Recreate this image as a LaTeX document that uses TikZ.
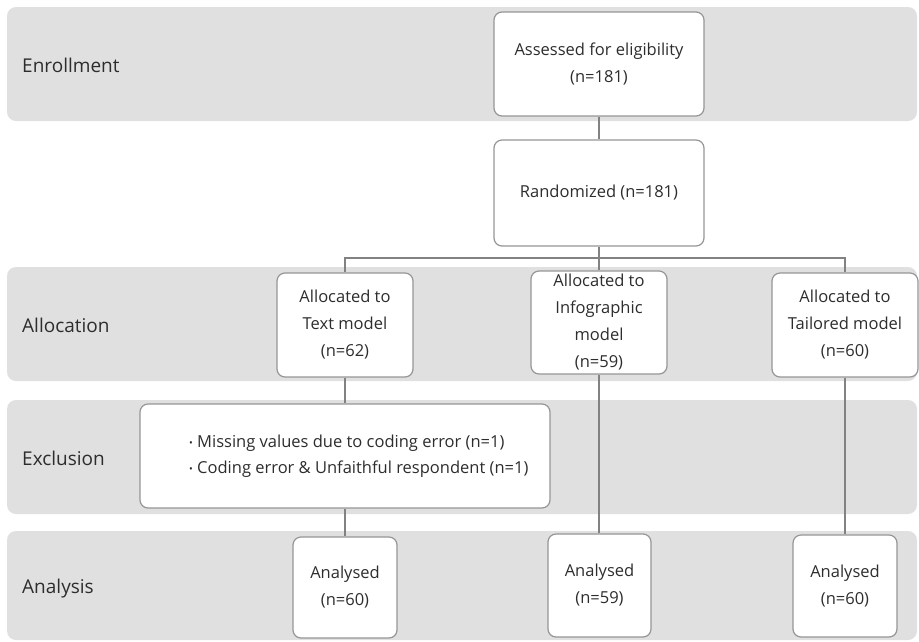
\documentclass[tikz,border=0pt]{standalone}
\usepackage{fontspec}
\setmainfont{Open Sans}
\newcommand{\smallbul}{{\fontsize{10}{10}\selectfont\raisebox{1pt}{•}}}
\begin{document}
\begin{tikzpicture}[x=1pt,y=-1pt,
  band/.style={fill=bandgray, draw=none, rounded corners=9pt},
  box/.style={draw=boxborder, line width=1.2pt, fill=white, rounded corners=8pt, align=center,
     font=\fontsize{16.5}{27}\selectfont, text=txt, inner sep=0pt},
  lbl/.style={anchor=west, font=\fontsize{19}{22}\selectfont, text=txt, inner sep=0pt},
  conn/.style={draw=linegray, line width=1.2pt}]
\definecolor{bandgray}{RGB}{224,224,224}
\definecolor{boxborder}{RGB}{150,150,150}
\definecolor{linegray}{RGB}{130,130,130}
\definecolor{txt}{RGB}{45,45,45}
\clip (0,0) rectangle (919,641);
\useasboundingbox (0,0) rectangle (919,641);
% bands
\path[band] (7,7) rectangle (917,121);
\path[band] (7,267) rectangle (917,381);
\path[band] (7,400) rectangle (917,514);
\path[band] (7,531) rectangle (917,640);
% labels
\node[lbl] (lenr) at (22,65) {Enrollment};
\node[lbl] (lall) at (22,325) {Allocation};
\node[lbl] (lexc) at (22,458) {Exclusion};
\node[lbl] (lana) at (22,589) {Analysis};
% boxes
\node[box, minimum width=210pt, minimum height=104pt] (ass) at (599,64) {Assessed for eligibility\\(n=181)};
\node[box, minimum width=210pt, minimum height=106pt] (rand) at (599,193) {Randomized (n=181)};
\node[box, minimum width=136pt, minimum height=104pt] (textm) at (345,325) {Allocated to\\Text model\\(n=62)};
\node[box, minimum width=136pt, minimum height=103pt] (info) at (599,322.5) {Allocated to\\Infographic\\model\\(n=59)};
\node[box, minimum width=146pt, minimum height=104pt] (tail) at (845,325) {Allocated to\\Tailored model\\(n=60)};
\node[box, minimum width=410pt, minimum height=104pt] (excl) at (345,456) {};
\node[anchor=west, align=left, font=\fontsize{16.5}{26}\selectfont, text=txt, inner sep=0pt] (excltext) at (189,456)
  {\smallbul\ Missing values due to coding error (n=1)\\\smallbul\ Coding error \& Unfaithful respondent (n=1)};
\node[box, minimum width=104pt, minimum height=101pt] (an1) at (345,587.5) {Analysed\\(n=60)};
\node[box, minimum width=103pt, minimum height=103pt] (an2) at (599.5,585.5) {Analysed\\(n=59)};
\node[box, minimum width=104pt, minimum height=102pt] (an3) at (845,586) {Analysed\\(n=60)};
% connectors
\coordinate (split) at (599,258);
\draw[conn] (ass.south) -- (rand.north);
\draw[conn] (rand.south) -- (split);
\draw[conn] (split) -| (textm.north);
\draw[conn] (split) -| (tail.north);
\draw[conn] (split) -- (info.north);
\draw[conn] (textm.south) -- (excl.north);
\draw[conn] (excl.south) -- (an1.north);
\draw[conn] (info.south) -- (an2.north -| info.south);
\draw[conn] (tail.south) -- (an3.north);
\end{tikzpicture}
\end{document}
